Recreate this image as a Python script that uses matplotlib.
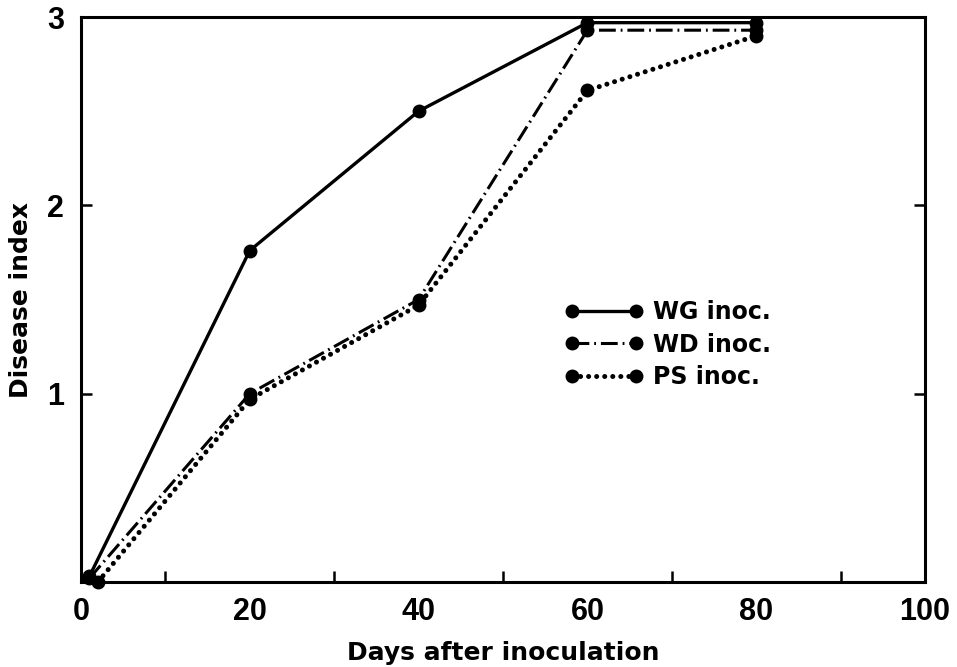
import matplotlib
matplotlib.use("Agg")
import matplotlib.pyplot as plt
from matplotlib.ticker import FixedLocator

plt.rcParams['font.family'] = ['Liberation Sans', 'DejaVu Sans']
plt.rcParams['font.weight'] = 'bold'

days_wg = [1, 20, 40, 60, 80]
wg = [0.03, 1.76, 2.50, 2.97, 2.97]
days_wd = [1, 20, 40, 60, 80]
wd = [0.02, 1.00, 1.50, 2.93, 2.93]
days_ps = [2, 20, 40, 60, 80]
ps = [0.0, 0.97, 1.47, 2.61, 2.90]

xticks_major = [0, 20, 40, 60, 80, 100]
xticks_minor = [10, 20, 30, 40, 50, 60, 70, 80, 90]
yticks_major = [1, 2, 3]

fig = plt.figure(figsize=(9.57, 6.67), dpi=100)
ax = fig.add_axes([0.0846, 0.1274, 0.882, 0.8471])

ms = 9
ax.plot(days_wg, wg, color='black', lw=2.4, ls='-', marker='o', ms=ms,
        label='WG inoc.', clip_on=False, zorder=3)
ax.plot(days_wd, wd, color='black', lw=2.2, ls=(0, (5.5, 1.6, 0.6, 1.6)),
        marker='o', ms=ms, label='WD inoc.', clip_on=False, zorder=3)
ax.plot(days_ps, ps, color='black', lw=3.6, ls=(0, (0.01, 1.6)),
        dash_capstyle='round', marker='o', ms=ms, label='PS inoc.',
        clip_on=False, zorder=3)

ax.set_xlim(0, 100)
ax.set_ylim(0, 3)
ax.xaxis.set_major_locator(FixedLocator(xticks_major))
ax.xaxis.set_minor_locator(FixedLocator(xticks_minor))
ax.yaxis.set_major_locator(FixedLocator(yticks_major))

for s in ax.spines.values():
    s.set_linewidth(2.2)

ax.tick_params(axis='x', which='minor', direction='in', length=8, width=1.8)
ax.tick_params(axis='x', which='major', length=0, labelsize=22, pad=11)
ax.tick_params(axis='y', which='major', direction='in', length=8, width=1.8,
               labelsize=22, pad=12, right=True)
for t in ax.yaxis.get_major_ticks():
    if t.get_loc() == 3:
        t.tick1line.set_visible(False)
        t.tick2line.set_visible(False)

for lab in ax.get_xticklabels() + ax.get_yticklabels():
    lab.set_fontweight('bold')

ax.set_xlabel('Days after inoculation', fontsize=18, fontweight='bold',
              family='DejaVu Sans', labelpad=10)
ax.set_ylabel('Disease index', fontsize=18, fontweight='bold',
              family='DejaVu Sans', labelpad=10)

leg = ax.legend(loc='center left', bbox_to_anchor=(0.548, 0.42), frameon=False,
                prop={'family': 'DejaVu Sans', 'weight': 'bold', 'size': 17},
                handlelength=3.3, handletextpad=0.45,
                labelspacing=0.35, numpoints=2)

fig.savefig('out.png', dpi=100)
